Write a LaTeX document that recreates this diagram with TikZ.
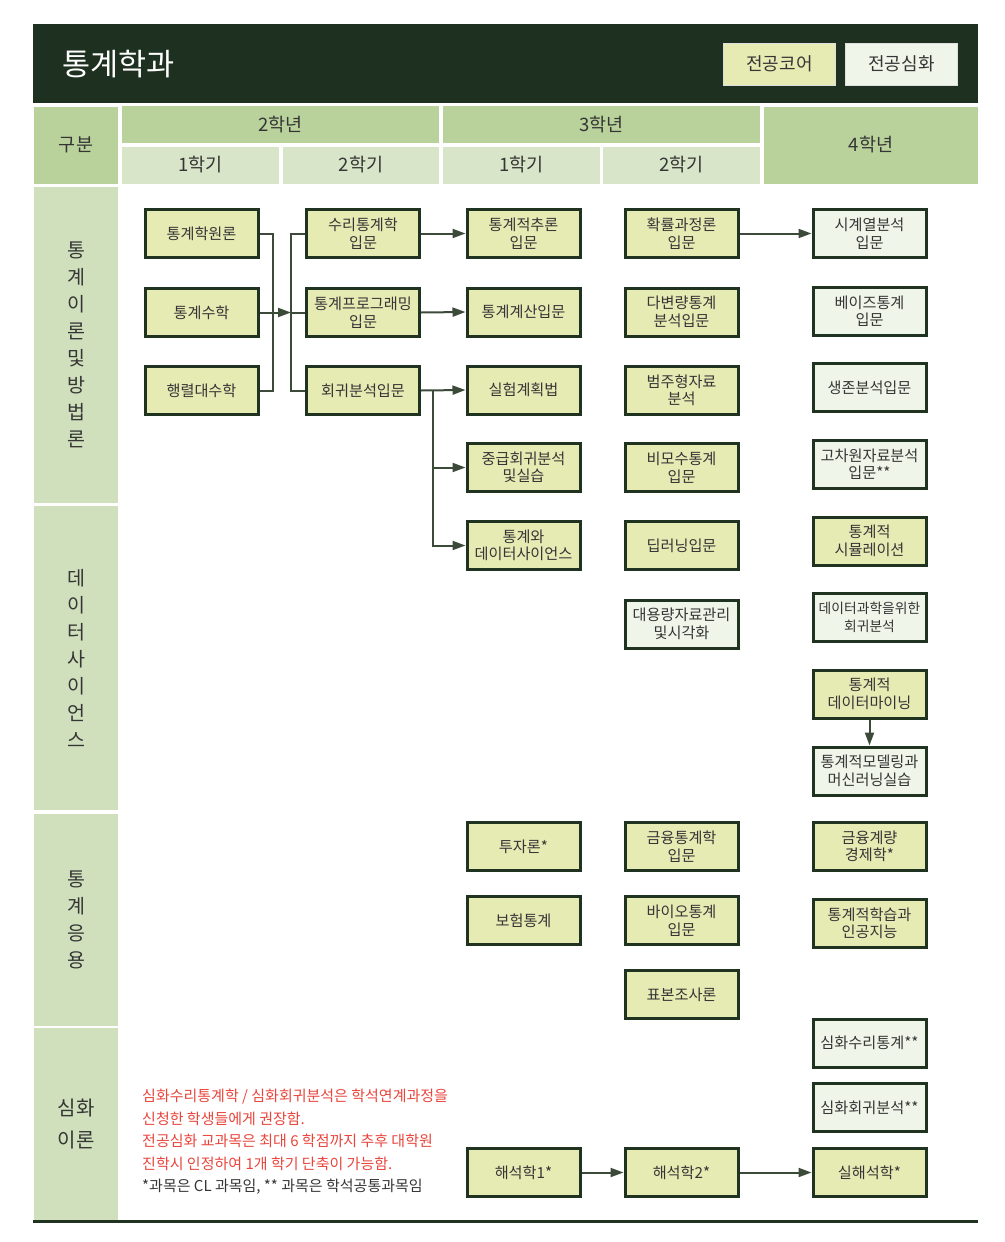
\documentclass[tikz,border=0pt]{standalone}
\usepackage{fontspec}
\setmainfont{Noto Sans CJK KR}
\usepackage{xcolor}
\usetikzlibrary{positioning,arrows.meta}

\definecolor{darkband}{HTML}{1E3120}
\definecolor{corefill}{HTML}{E6EBB4}
\definecolor{advfill}{HTML}{EFF5E9}
\definecolor{yearfill}{HTML}{B9D29B}
\definecolor{termfill}{HTML}{D8E5C8}
\definecolor{sidefill}{HTML}{D0E0BC}
\definecolor{boxline}{HTML}{1F3320}
\definecolor{linkline}{HTML}{3C4A3A}
\definecolor{notered}{HTML}{E8453C}
\definecolor{textgray}{HTML}{353535}

\begin{document}
\begin{tikzpicture}[x=1pt, y=-1pt,
  corebox/.style={draw=boxline, line width=3pt, fill=corefill, minimum width=113pt, minimum height=48pt, inner sep=1pt, align=center, text=textgray, font=\fontsize{15.2}{17.5}\selectfont},
  advbox/.style={corebox, fill=advfill},
  headcell/.style={fill=yearfill, inner sep=0pt, text=textgray, font=\fontsize{18.5}{20}\selectfont},
  termcell/.style={headcell, fill=termfill, minimum width=157pt, minimum height=37pt},
  sidecell/.style={fill=sidefill, inner sep=0pt, minimum width=84pt, align=center, text=textgray, font=\fontsize{19.5}{27}\selectfont},
  legendbox/.style={draw=white!75!gray, line width=1pt, minimum width=112pt, minimum height=42pt, text=textgray, font=\fontsize{18}{20}\selectfont},
  link/.style={draw=linkline, line width=2pt},
  arrow/.style={link, -{Triangle[length=13pt, width=9pt]}}]
\useasboundingbox (0,0) rectangle (1004,1242);

% Title band and legend
\fill[darkband] (33,24) rectangle (978,103);
\node[anchor=west, text=white, font=\fontsize{30.5}{32}\selectfont] (title) at (59,64) {통계학과};
\node[legendbox, fill=corefill] (legcore) at (779.5,64) {전공코어};
\node[legendbox, fill=advfill] (legadv) at (901.5,64) {전공심화};

% Header rows
\node[headcell, minimum width=84pt, minimum height=77pt] (gubun) at (76,145) {구분};
\node[headcell, minimum width=317pt, minimum height=37pt] (year2) at (280.5,124.5) {2학년};
\node[headcell, minimum width=317pt, minimum height=37pt] (year3) at (601.5,124.5) {3학년};
\node[headcell, minimum width=214pt, minimum height=77pt] (year4) at (871,145) {4학년};
\node[termcell] (t21) at (200.5,165) {1학기};
\node[termcell, minimum width=156pt] (t22) at (361,165) {2학기};
\node[termcell] (t31) at (521.5,165) {1학기};
\node[termcell] (t32) at (681.5,165) {2학기};

% Category column
\node[sidecell, minimum height=316pt] (theory) at (76,345) {통\\계\\이\\론\\및\\방\\법\\론};
\node[sidecell, minimum height=304pt] (datasci) at (76,658) {데\\이\\터\\사\\이\\언\\스};
\node[sidecell, minimum height=212pt] (applied) at (76,920) {통\\계\\응\\용};
\node[sidecell, minimum height=192pt, font=\fontsize{20}{32}\selectfont] (deeper) at (76,1124) {심화\\이론};

% 2nd year, 1st term
\node[corebox] (wonron) at (201.5,233.5) {통계학원론};
\node[corebox] (susu) at (201.5,312.5) {통계수학};
\node[corebox] (haengryeol) at (201.5,390.5) {행렬대수학};

% 2nd year, 2nd term
\node[corebox] (surisu) at (363,233.5) {수리통계학\\입문};
\node[corebox] (program) at (363,312.5) {통계프로그래밍\\입문};
\node[corebox] (hoegwi) at (363,390.5) {회귀분석입문};

% 3rd year, 1st term
\node[corebox] (churon) at (523.5,233.5) {통계적추론\\입문};
\node[corebox] (gyesan) at (523.5,312) {통계계산입문};
\node[corebox] (silheom) at (523.5,390) {실험계획법};
\node[corebox] (junggeup) at (523.5,467.5) {중급회귀분석\\및실습};
\node[corebox] (dsci) at (523.5,545.5) {통계와\\데이터사이언스};
\node[corebox] (tuja) at (523.5,846.5) {투자론*};
\node[corebox] (boheom) at (523.5,920.5) {보험통계};
\node[corebox] (haeseok1) at (523.5,1172.5) {해석학1*};

% 3rd year, 2nd term
\node[corebox] (hwakryul) at (681.5,233.5) {확률과정론\\입문};
\node[corebox] (dabyeon) at (681.5,312) {다변량통계\\분석입문};
\node[corebox] (beomju) at (681.5,390) {범주형자료\\분석};
\node[corebox] (bimosu) at (681.5,467.5) {비모수통계\\입문};
\node[corebox] (deep) at (681.5,545.5) {딥러닝입문};
\node[advbox] (bigdata) at (681.5,624) {대용량자료관리\\및시각화};
\node[corebox] (geumyung) at (681.5,846.5) {금융통계학\\입문};
\node[corebox] (bio) at (681.5,920.5) {바이오통계\\입문};
\node[corebox] (pyobon) at (681.5,994.5) {표본조사론};
\node[corebox] (haeseok2) at (681.5,1172.5) {해석학2*};

% 4th year
\node[advbox] (sigye) at (869.5,233.5) {시계열분석\\입문};
\node[advbox] (bayes) at (869.5,311) {베이즈통계\\입문};
\node[advbox] (saengjon) at (869.5,387.5) {생존분석입문};
\node[advbox] (gocha) at (869.5,464) {고차원자료분석\\입문**};
\node[corebox] (simul) at (869.5,541) {통계적\\시뮬레이션};
\node[advbox, font=\fontsize{13.8}{17.5}\selectfont] (dsreg) at (869.5,617.5) {데이터과학을위한\\회귀분석};
\node[corebox] (mining) at (869.5,694) {통계적\\데이터마이닝};
\node[advbox] (modeling) at (869.5,771) {통계적모델링과\\머신러닝실습};
\node[corebox] (gyeryang) at (869.5,846.5) {금융계량\\경제학*};
\node[corebox] (ai) at (869.5,923.5) {통계적학습과\\인공지능};
\node[advbox] (simsuri) at (869.5,1043) {심화수리통계**};
\node[advbox] (simhoegwi) at (869.5,1107.5) {심화회귀분석**};
\node[corebox] (silhaeseok) at (869.5,1172.5) {실해석학*};

% Arrows
\coordinate (joinL) at (273,312.5);
\coordinate (joinR) at (291,312.5);
\coordinate (branchC) at (433,390.5);
\draw[link] (wonron.east) -| (joinL) |- (haengryeol.east);
\draw[arrow] (susu.east) -- (joinR);
\draw[link] (surisu.west) -| (joinR) |- (hoegwi.west);
\draw[link] (joinR) -- (program.west);
\draw[arrow] (surisu.east) -- (churon.west);
\draw[arrow] (program.east) -- (gyesan.west);
\draw[arrow] (hoegwi.east) -- (silheom.west);
\draw[arrow] (branchC) |- (junggeup.west);
\draw[arrow] (branchC) |- (dsci.west);
\draw[arrow] (hwakryul.east) -- (sigye.west);
\draw[arrow] (mining.south) -- (modeling.north);
\draw[arrow] (haeseok1.east) -- (haeseok2.west);
\draw[arrow] (haeseok2.east) -- (silhaeseok.west);

% Notes
\node[anchor=west, align=left, text=textgray, inner sep=0pt, font=\fontsize{15}{22.5}\selectfont] (notes) at (142,1142) {\textcolor{notered}{심화수리통계학 / 심화회귀분석은 학석연계과정을}\\\textcolor{notered}{신청한 학생들에게 권장함.}\\\textcolor{notered}{전공심화 교과목은 최대 6 학점까지 추후 대학원}\\\textcolor{notered}{진학시 인정하여 1개 학기 단축이 가능함.}\\*과목은 CL 과목임, ** 과목은 학석공통과목임};

% Bottom rule
\draw[boxline, line width=3pt] (33,1221) -- (978,1221);
\end{tikzpicture}
\end{document}
